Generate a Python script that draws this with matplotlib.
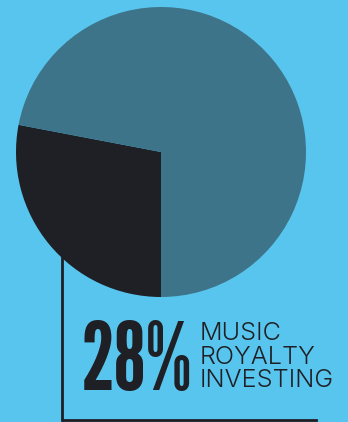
import matplotlib.pyplot as plt
from matplotlib.textpath import TextPath
from matplotlib.font_manager import FontProperties

# ── Data ──────────────────────────────────────────────────────────────────────
shares = [28, 72]
share_colors = ["#1f2025", "#3e7489"]
label_lines = ["MUSIC", "ROYALTY", "INVESTING"]

BG = "#58c5ee"
INK = "#1f2025"
W, H = 348, 422

# ink box of the big figure and of the label block, in pixels
BIG_X, BIG_BASE, BIG_W, BIG_H = 84, 391, 99, 70
LAB_X, LAB_BASE, LAB_W, LAB_STEP = 202, 340, 130, 23.5

fig = plt.figure(figsize=(W / 100, H / 100), dpi=100, facecolor=BG)
ax = fig.add_axes([0, 0, 1, 1])
ax.set_facecolor(BG)

# pie: dark slice ends straight down, running counterclockwise from the left
start = 270 - shares[0] / 100 * 360
ax.pie(shares, colors=share_colors, startangle=start, counterclock=True,
       center=(161, H - 152), radius=145,
       wedgeprops=dict(linewidth=0))

# leader line (sits under the pie)
ax.plot([62, 62, 316], [H - 240, H - 420, H - 420], color=INK, lw=2,
        solid_joinstyle="miter", zorder=0)

# pick the heavy condensed face whose proportions best match the reference
big = f"{shares[0]}%"
cands = [("Saira ExtraCondensed", 900), ("Fira Sans Extra Condensed", 900),
         ("Barlow Condensed", 900), ("League Gothic", 400), ("Oswald", 700),
         ("Antonio", 700), ("Bebas Neue", 400)]
best = None
for fam, wt in cands:
    fp = FontProperties(family=fam, weight=wt)
    e = TextPath((0, 0), big, size=100, prop=fp).get_extents()
    score = abs(e.width / e.height - BIG_W / BIG_H)
    if best is None or score < best[0]:
        best = (score, fp, e)
_, fp, e = best
k = BIG_H / e.height
ax.text(BIG_X - e.x0 * k, H - BIG_BASE - e.y0 * k, big, fontproperties=fp,
        fontsize=100 * k * 0.72, color=INK, ha="left", va="baseline")

# label block sized so the longest line spans the reference width
lp = FontProperties(family="Inter", weight=300)
le = TextPath((0, 0), max(label_lines, key=len), size=100, prop=lp).get_extents()
lk = LAB_W / le.width
for i, line in enumerate(label_lines):
    ax.text(LAB_X - le.x0 * lk, H - LAB_BASE - LAB_STEP * i, line,
            fontproperties=lp, fontsize=100 * lk * 0.72, color=INK,
            ha="left", va="baseline")

ax.set_xlim(0, W)
ax.set_ylim(0, H)
ax.set_aspect("auto")
ax.axis("off")

fig.savefig("out.png", dpi=100, facecolor=BG)
